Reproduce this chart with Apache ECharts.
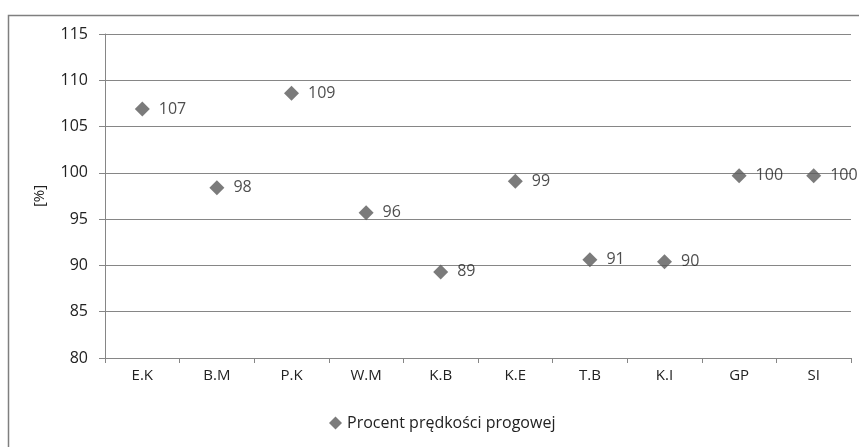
<!DOCTYPE html>
<html>
<head>
<meta charset="utf-8">
<script src="https://cdn.jsdelivr.net/npm/echarts@6/dist/echarts.min.js"></script>
<style>
  html, body { margin: 0; padding: 0; background: #fff; }
  #chart { width: 859px; height: 447px; }
</style>
</head>
<body>
<div id="chart"></div>
<script>
// Athletes / groups along the x axis
const categories = ['E.K', 'B.M', 'P.K', 'W.M', 'K.B', 'K.E', 'T.B', 'K.I', 'GP', 'SI'];
// Percentage of threshold speed for each category
const percentValues = [106.9, 98.4, 108.6, 95.7, 89.3, 99.1, 90.6, 90.4, 99.7, 99.7];
const seriesName = 'Procent prędkości progowej';
const yAxisName = '[%]';
const yMin = 80, yMax = 115, yStep = 5;

const FONT = '"Open Sans", Lato, sans-serif';
const TEXT = '#222222';
const GRID = '#868686';

const chart = echarts.init(document.getElementById('chart'), null, { renderer: 'canvas' });

chart.setOption({
  animation: false,
  backgroundColor: '#ffffff',
  textStyle: { fontFamily: FONT },
  graphic: [{
    type: 'rect',
    left: 6, top: 13,
    shape: { width: 900, height: 480 },
    style: { fill: 'none', stroke: '#7f7f7f', lineWidth: 1.5 },
    silent: true
  }],
  grid: { left: 105, top: 34, right: 8, bottom: 89, containLabel: false },
  legend: {
    bottom: 11,
    left: 324,
    itemWidth: 13, itemHeight: 13, itemGap: 4,
    icon: 'diamond',
    textStyle: { fontFamily: FONT, fontSize: 16, color: TEXT },
    data: [seriesName]
  },
  xAxis: {
    type: 'category',
    data: categories,
    boundaryGap: true,
    axisLine: { lineStyle: { color: GRID, width: 1 } },
    axisTick: { show: true, length: 5, alignWithLabel: false, lineStyle: { color: GRID } },
    axisLabel: { fontFamily: FONT, fontSize: 15, color: TEXT, margin: 10 }
  },
  yAxis: {
    type: 'value',
    min: yMin, max: yMax, interval: yStep,
    name: yAxisName,
    nameLocation: 'middle',
    nameGap: 58,
    nameTextStyle: { fontFamily: FONT, fontSize: 15, color: TEXT },
    axisLine: { show: true, lineStyle: { color: GRID, width: 1 } },
    axisTick: { show: true, length: 6, lineStyle: { color: GRID } },
    axisLabel: { fontFamily: FONT, fontSize: 16, color: TEXT, margin: 17 },
    splitLine: { show: true, lineStyle: { color: GRID, width: 1 } }
  },
  series: [{
    name: seriesName,
    type: 'scatter',
    data: percentValues,
    symbol: 'diamond',
    symbolSize: 15,
    itemStyle: { color: '#5a5a5a' },
    label: {
      show: true,
      position: 'right',
      distance: 9,
      fontFamily: FONT,
      fontSize: 16,
      color: TEXT,
      formatter: p => String(Math.round(p.value))
    }
  }]
});
</script>
</body>
</html>
